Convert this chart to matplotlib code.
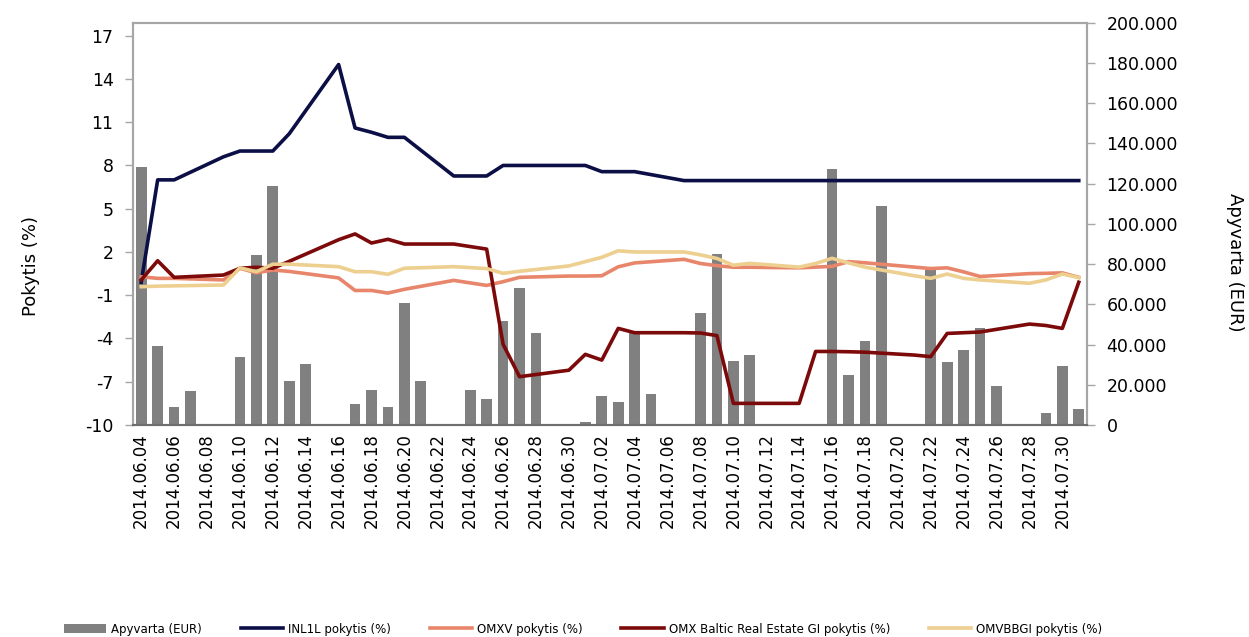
import pandas as pd
import matplotlib
matplotlib.use("Agg")
import matplotlib.pyplot as plt
import matplotlib.dates as mdates
from matplotlib.ticker import FuncFormatter

plt.rcParams['font.family'] = ['DejaVu Sans']
plt.rcParams['axes.unicode_minus'] = False

# turnover bars (EUR)
bar_dates = ['2014-06-04', '2014-06-05', '2014-06-06', '2014-06-07', '2014-06-10',
             '2014-06-11', '2014-06-12', '2014-06-13', '2014-06-14', '2014-06-17',
             '2014-06-18', '2014-06-19', '2014-06-20', '2014-06-21', '2014-06-24',
             '2014-06-25', '2014-06-26', '2014-06-27', '2014-06-28', '2014-07-01',
             '2014-07-02', '2014-07-03', '2014-07-04', '2014-07-05', '2014-07-08',
             '2014-07-09', '2014-07-10', '2014-07-11', '2014-07-16', '2014-07-17',
             '2014-07-18', '2014-07-19', '2014-07-22', '2014-07-23', '2014-07-24',
             '2014-07-25', '2014-07-26', '2014-07-29', '2014-07-30', '2014-07-31']
turnover = [128300, 39300, 8800, 16800, 34000,
            84600, 118600, 22000, 30500, 10300,
            17400, 8800, 60600, 22000, 17400,
            13100, 51800, 68100, 45700, 1300,
            14600, 11500, 45700, 15300, 55900,
            85000, 32000, 34700, 127100, 25000,
            42000, 109000, 77200, 31500, 37300,
            48400, 19400, 5800, 29400, 7800]

# daily changes (%) on trading days
line_dates = ['2014-06-04', '2014-06-05', '2014-06-06', '2014-06-09', '2014-06-10',
              '2014-06-11', '2014-06-12', '2014-06-13', '2014-06-16', '2014-06-17',
              '2014-06-18', '2014-06-19', '2014-06-20', '2014-06-23', '2014-06-25',
              '2014-06-26', '2014-06-27', '2014-06-30', '2014-07-01', '2014-07-02',
              '2014-07-03', '2014-07-04', '2014-07-07', '2014-07-08', '2014-07-09',
              '2014-07-10', '2014-07-11', '2014-07-14', '2014-07-15', '2014-07-16',
              '2014-07-17', '2014-07-18', '2014-07-21', '2014-07-22', '2014-07-23',
              '2014-07-24', '2014-07-25', '2014-07-28', '2014-07-29', '2014-07-30',
              '2014-07-31']
inl1l = [-0.1, 7.0, 7.0, 8.6, 9.0, 9.0, 9.0, 10.2, 15.0, 10.6,
         10.3, 9.95, 9.95, 7.27, 7.27, 8.0, 8.0, 8.0, 8.0, 7.57,
         7.57, 7.57, 6.95, 6.95, 6.95, 6.95, 6.95, 6.95, 6.95, 6.95,
         6.95, 6.95, 6.95, 6.95, 6.95, 6.95, 6.95, 6.95, 6.95, 6.95,
         6.95]
omxv = [0.28, 0.17, 0.17, 0.06, 0.87, 0.55, 0.75, 0.65, 0.2, -0.67,
        -0.67, -0.85, -0.59, 0.03, -0.32, -0.06, 0.24, 0.33, 0.33, 0.35,
        0.97, 1.24, 1.49, 1.2, 1.05, 0.94, 0.94, 0.9, 0.95, 1.0,
        1.33, 1.25, 0.95, 0.85, 0.9, 0.62, 0.3, 0.5, 0.52, 0.55,
        0.24]
omx_re = [0.06, 1.39, 0.24, 0.40, 0.87, 0.94, 0.87, 1.35, 2.85, 3.25,
          2.62, 2.88, 2.55, 2.55, 2.2, -4.4, -6.65, -6.2, -5.1, -5.5,
          -3.3, -3.6, -3.6, -3.62, -3.8, -8.5, -8.5, -8.5, -4.9, -4.9,
          -4.92, -4.95, -5.15, -5.26, -3.65, -3.6, -3.55, -3.0, -3.1, -3.3,
          -0.1]
omvbbgi = [-0.41, -0.37, -0.35, -0.29, 0.9, 0.63, 1.15, 1.15, 0.98, 0.63,
           0.63, 0.45, 0.87, 0.98, 0.85, 0.52, 0.66, 1.03, 1.33, 1.63,
           2.08, 2.0, 2.0, 1.8, 1.55, 1.08, 1.21, 0.95, 1.2, 1.56,
           1.24, 0.95, 0.35, 0.17, 0.47, 0.17, 0.06, -0.17, 0.06, 0.47,
           0.22]

left_ticks = [-10, -7, -4, -1, 2, 5, 8, 11, 14, 17]
right_ticks = list(range(0, 200001, 20000))

bd = pd.to_datetime(bar_dates)
ld = pd.to_datetime(line_dates)

fig = plt.figure(figsize=(12.49, 6.37), dpi=100)
ax = fig.add_axes([133 / 1249, 1 - 425 / 637, (1087 - 133) / 1249, (425 - 22.7) / 637])
ax2 = ax.twinx()
ax.set_zorder(ax2.get_zorder() + 1)
ax.patch.set_visible(False)

bars = ax2.bar(bd, turnover, width=0.65, color='#808080', label='Apyvarta (EUR)')
l1, = ax.plot(ld, inl1l, color='#0B0F45', lw=2.6, label='INL1L pokytis (%)')
l2, = ax.plot(ld, omxv, color='#E8866C', lw=2.6, label='OMXV pokytis (%)')
l3, = ax.plot(ld, omx_re, color='#7D0A0A', lw=2.6, label='OMX Baltic Real Estate GI pokytis (%)')
l4, = ax.plot(ld, omvbbgi, color='#EDCF90', lw=2.6, label='OMVBBGI pokytis (%)')

ax.set_ylim(-10, 17.9)
ax2.set_ylim(0, 200000)
ax.set_yticks(left_ticks)
ax2.set_yticks(right_ticks)
ax2.yaxis.set_major_formatter(FuncFormatter(lambda v, p: f"{int(v):,}".replace(',', '.')))

ax.set_xlim(pd.Timestamp('2014-06-04') - pd.Timedelta(hours=12),
            pd.Timestamp('2014-07-31') + pd.Timedelta(hours=12))
ax.set_xticks(pd.date_range('2014-06-04', '2014-07-30', freq='2D'))
ax.xaxis.set_major_formatter(mdates.DateFormatter('%Y.%m.%d'))
for lab in ax.get_xticklabels():
    lab.set_rotation(90)

ax.tick_params(axis='x', length=0, pad=6, labelsize=12)
ax.tick_params(axis='y', length=6, width=1, color='#A6A6A6', pad=8, labelsize=12.5)
ax2.tick_params(axis='y', length=6, width=1, color='#A6A6A6', pad=8, labelsize=12.5)

for a in (ax, ax2):
    for s in a.spines.values():
        s.set_color('#A6A6A6')
        s.set_linewidth(1.5)
    a.spines['bottom'].set_color('#6E6E6E')

fig.text(31 / 1249, 1 - 266 / 637, 'Pokytis (%)', rotation=90, fontsize=13,
         ha='center', va='center')
fig.text(1235 / 1249, 1 - 262 / 637, 'Apyvarta (EUR)', rotation=270, fontsize=13,
         ha='center', va='center')

fig.legend(handles=[bars, l1, l2, l3, l4], loc='center', ncol=5,
           bbox_to_anchor=(583 / 1249, 1 - 629 / 637), frameon=False,
           fontsize=8.5, handlelength=3.6, handleheight=0.8, handletextpad=0.4,
           columnspacing=3.3)

fig.savefig('out.png', dpi=100)
